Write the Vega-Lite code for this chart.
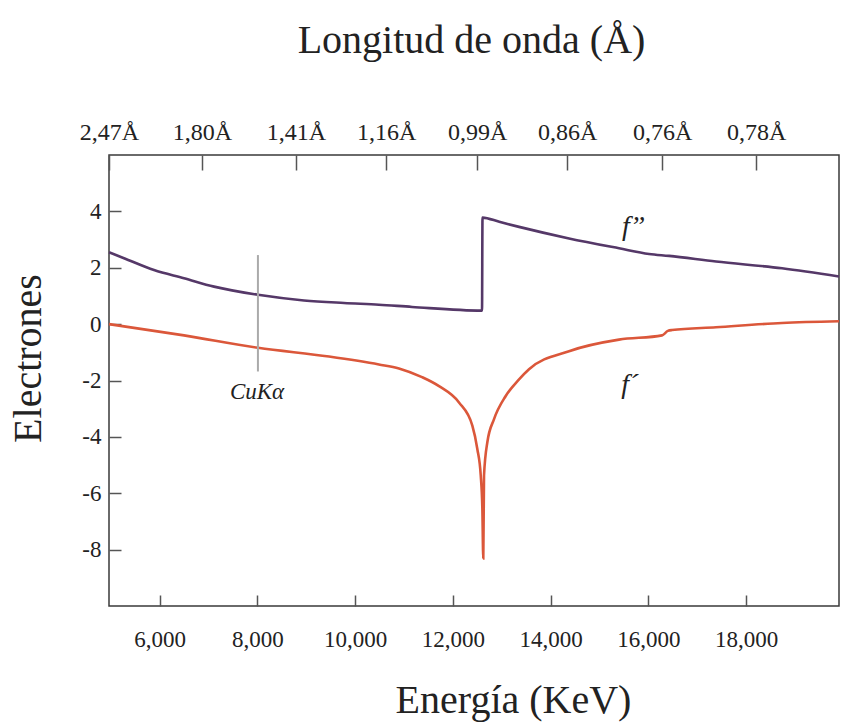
{
  "$schema": "https://vega.github.io/schema/vega-lite/v6.json",
  "width": 730,
  "height": 451,
  "autosize": {"type": "none"},
  "padding": {"left": 109, "top": 155, "right": 26, "bottom": 117},
  "background": "white",
  "config": {
    "font": "Liberation Serif",
    "view": {"stroke": "#3a3a3a", "strokeWidth": 1.5},
    "axis": {
      "domain": false,
      "grid": false,
      "labelFont": "Liberation Serif",
      "labelFontSize": 24,
      "labelColor": "#222222",
      "tickColor": "#555555",
      "tickWidth": 1.5,
      "titleFont": "Liberation Serif",
      "titleFontSize": 40,
      "titleFontWeight": "normal",
      "titleColor": "#222222"
    }
  },
  "datasets": {
    "curves": [
      {"s": "f2", "i": 1, "E": 4962, "v": 2.55},
      {"s": "f2", "i": 2, "E": 5269, "v": 2.34},
      {"s": "f2", "i": 3, "E": 5883, "v": 1.92},
      {"s": "f2", "i": 4, "E": 6497, "v": 1.63},
      {"s": "f2", "i": 5, "E": 7111, "v": 1.33},
      {"s": "f2", "i": 6, "E": 8012, "v": 1.04},
      {"s": "f2", "i": 7, "E": 8953, "v": 0.84},
      {"s": "f2", "i": 8, "E": 9772, "v": 0.75},
      {"s": "f2", "i": 9, "E": 10486, "v": 0.69},
      {"s": "f2", "i": 10, "E": 11164, "v": 0.61},
      {"s": "f2", "i": 11, "E": 12596, "v": 0.48},
      {"s": "f2", "i": 12, "E": 12606, "v": 3.78},
      {"s": "f2", "i": 13, "E": 12949, "v": 3.63},
      {"s": "f2", "i": 14, "E": 13354, "v": 3.45},
      {"s": "f2", "i": 15, "E": 14377, "v": 3.04},
      {"s": "f2", "i": 16, "E": 15400, "v": 2.69},
      {"s": "f2", "i": 17, "E": 16014, "v": 2.49},
      {"s": "f2", "i": 18, "E": 16424, "v": 2.42},
      {"s": "f2", "i": 19, "E": 17385, "v": 2.22},
      {"s": "f2", "i": 20, "E": 18736, "v": 1.98},
      {"s": "f2", "i": 21, "E": 19902, "v": 1.69},
      {"s": "f1", "i": 1, "E": 4962, "v": 0.0},
      {"s": "f1", "i": 2, "E": 6497, "v": -0.4},
      {"s": "f1", "i": 3, "E": 8012, "v": -0.84},
      {"s": "f1", "i": 4, "E": 9465, "v": -1.15},
      {"s": "f1", "i": 5, "E": 10486, "v": -1.43},
      {"s": "f1", "i": 6, "E": 10896, "v": -1.57},
      {"s": "f1", "i": 7, "E": 11368, "v": -1.88},
      {"s": "f1", "i": 8, "E": 11716, "v": -2.2},
      {"s": "f1", "i": 9, "E": 12125, "v": -2.78},
      {"s": "f1", "i": 10, "E": 12398, "v": -3.6},
      {"s": "f1", "i": 11, "E": 12500, "v": -4.43},
      {"s": "f1", "i": 12, "E": 12570, "v": -5.37},
      {"s": "f1", "i": 13, "E": 12603, "v": -6.54},
      {"s": "f1", "i": 14, "E": 12622, "v": -8.31},
      {"s": "f1", "i": 15, "E": 12637, "v": -5.37},
      {"s": "f1", "i": 16, "E": 12705, "v": -4.19},
      {"s": "f1", "i": 17, "E": 12842, "v": -3.37},
      {"s": "f1", "i": 18, "E": 13081, "v": -2.55},
      {"s": "f1", "i": 19, "E": 13354, "v": -1.96},
      {"s": "f1", "i": 20, "E": 13558, "v": -1.6},
      {"s": "f1", "i": 21, "E": 14377, "v": -0.96},
      {"s": "f1", "i": 22, "E": 15400, "v": -0.55},
      {"s": "f1", "i": 23, "E": 16280, "v": -0.4},
      {"s": "f1", "i": 24, "E": 16400, "v": -0.24},
      {"s": "f1", "i": 25, "E": 16485, "v": -0.21},
      {"s": "f1", "i": 26, "E": 17385, "v": -0.11},
      {"s": "f1", "i": 27, "E": 18736, "v": 0.04},
      {"s": "f1", "i": 28, "E": 19902, "v": 0.1}
    ],
    "cuka": [{"E": 8010, "top": 2.45, "bottom": -1.68}],
    "flabels": [
      {"t": "f”", "E": 15700, "v": 3.45},
      {"t": "f´", "E": 15620, "v": -2.15}
    ],
    "culabel": [{"t": "CuKα", "E": 7991, "v": -2.4}]
  },
  "layer": [
    {
      "data": {"name": "curves"},
      "mark": {"type": "line", "strokeWidth": 2.6, "interpolate": "monotone"},
      "encoding": {
        "x": {
          "field": "E", "type": "quantitative",
          "scale": {"domain": [4962, 19902], "nice": false, "zero": false},
          "axis": {
            "orient": "bottom",
            "values": [6000, 8000, 10000, 12000, 14000, 16000, 18000],
            "labelExpr": "format(datum.value, ',')",
            "labelFont": "Liberation Serif",
            "labelFontSize": 23,
            "labelColor": "#222222",
            "labelFlush": false,
            "labelOverlap": false,
            "tickSize": -11,
            "labelPadding": 33,
            "title": "Energía (KeV)",
            "titleX": 404,
            "titleY": 106,
            "titleAlign": "center",
            "titleBaseline": "alphabetic"
          }
        },
        "y": {
          "field": "v", "type": "quantitative",
          "scale": {"domain": [-10, 6], "nice": false},
          "axis": {
            "values": [-8, -6, -4, -2, 0, 2, 4],
            "labelExpr": "'' + datum.value",
            "labelFont": "Liberation Serif",
            "labelFontSize": 23,
            "labelColor": "#222222",
            "labelFlush": false,
            "labelOverlap": false,
            "tickSize": -12,
            "labelPadding": 20,
            "title": "Electrones",
            "titleX": -69,
            "titleY": 203,
            "titleAngle": -90,
            "titleAlign": "center",
            "titleBaseline": "alphabetic"
          }
        },
        "color": {
          "field": "s", "type": "nominal",
          "scale": {"domain": ["f2", "f1"], "range": ["#553868", "#db573a"]},
          "legend": null
        },
        "order": {"field": "i", "type": "quantitative"}
      }
    },
    {
      "data": {"name": "cuka"},
      "mark": {"type": "rule", "color": "#aaaaaa", "strokeWidth": 2},
      "encoding": {
        "x": {
          "field": "E", "type": "quantitative",
          "axis": {
            "orient": "top",
            "values": [4962, 6866, 8790, 10632, 12495, 14337, 16281, 18205],
            "labelExpr": "['2,47Å','1,80Å','1,41Å','1,16Å','0,99Å','0,86Å','0,76Å','0,78Å'][indexof([4962,6866,8790,10632,12495,14337,16281,18205], datum.value)]",
            "labelFont": "Liberation Serif",
            "labelFontSize": 24,
            "labelColor": "#222222",
            "labelFlush": false,
            "labelOverlap": false,
            "tickSize": -15,
            "labelPadding": 26,
            "title": "Longitud de onda (Å)",
            "titleX": 362,
            "titleY": -103,
            "titleAlign": "center",
            "titleBaseline": "alphabetic"
          }
        },
        "y": {"field": "bottom", "type": "quantitative"},
        "y2": {"field": "top"}
      }
    },
    {
      "data": {"name": "flabels"},
      "mark": {"type": "text", "font": "Liberation Serif", "fontStyle": "italic", "fontSize": 28, "color": "#222222"},
      "encoding": {
        "x": {"field": "E", "type": "quantitative", "axis": null},
        "y": {"field": "v", "type": "quantitative"},
        "text": {"field": "t"}
      }
    },
    {
      "data": {"name": "culabel"},
      "mark": {"type": "text", "font": "Liberation Serif", "fontStyle": "italic", "fontSize": 23, "color": "#222222"},
      "encoding": {
        "x": {"field": "E", "type": "quantitative", "axis": null},
        "y": {"field": "v", "type": "quantitative"},
        "text": {"field": "t"}
      }
    }
  ],
  "resolve": {"axis": {"x": "independent"}}
}
